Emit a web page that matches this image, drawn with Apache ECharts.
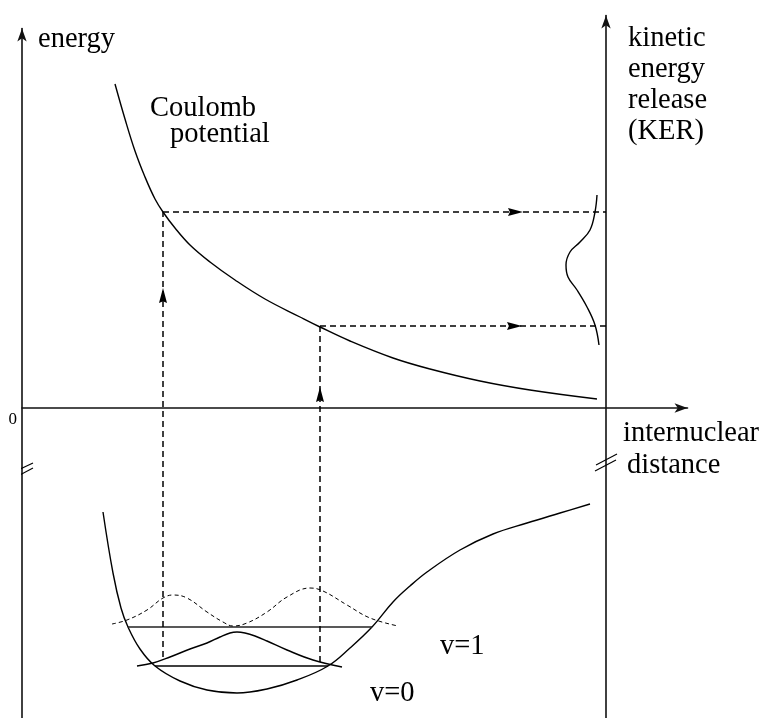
<!DOCTYPE html>
<html>
<head>
<meta charset="utf-8">
<script src="https://cdn.jsdelivr.net/npm/echarts@6/dist/echarts.min.js"></script>
<style>
  html, body { margin: 0; padding: 0; background: #ffffff; }
  #chart { width: 763px; height: 718px; }
</style>
</head>
<body>
<div id="chart"></div>
<script>
// Coordinates: x = internuclear distance, y = energy (0 at the dissociation limit)

// Repulsive Coulomb potential of the dication
const coulombCurve = [[115,324],[125,289],[135,257],[145,231],[155,209],[163,196],[175,180],[190,163],
  [210,146],[235,128],[265,109],[300,91],[320,81],[350,67],[393,50],[430,39],[480,27],[530,18],[597,9]];

// Bound potential well of the neutral molecule
const wellCurve = [[103,-104],[113,-165],[121,-200],[128,-219],[140,-241],[155,-258],[180,-273],[207,-282],
  [237,-285],[267,-281],[297,-272],[328,-258],[350,-240],[372,-219],[393,-194],[410,-178],[427,-164],
  [460,-142],[493,-126],[527,-115],[560,-105],[590,-96]];

// Vibrational levels: [left edge, right edge, energy]
const levelV1 = [128, 372, -219];
const levelV0 = [155, 328, -258];

// Ground-state (v=0) probability density
const densityV0 = [[137,-258],[153,-255],[170,-249],[190,-241],[207,-235],[220,-229],[230,-225],
  [237,-224],[245,-225],[255,-228],[267,-233],[287,-242],[313,-252],[342,-259]];

// First excited (v=1) probability density
const densityV1 = [[112,-216],[127,-212],[147,-202],[163,-190],[173,-187],[187,-190],[207,-204],
  [223,-214],[233,-218],[247,-215],[267,-204],[287,-189],[310,-180],[323,-183],[347,-197],
  [370,-210],[398,-218]];

// KER distribution drawn against the KER axis: [distance-axis position, energy]
const kerProfile = [[597,213],[595,196],[590,178],[580,166],[570,156],[566,143],[568,131],
  [577,118],[587,101],[595,83],[599,63]];

// Vertical (ionising) transitions and their projection onto the KER axis
const transitionR = [163, 320];
const startE = [-249, -254];
const coulombHitE = [196, 82];
const upArrowE = [120, 21];
const sideArrowR = [523, 522];
const kerAxisR = 606;

// Axis-break marks
const breakLeft = [[[12,-65],[33,-55]], [[12,-71],[33,-60]]];
const breakRight = [[[596,-57],[617,-46]], [[595,-63],[616,-52]]];

const ink = '#000';
const serif = '"Liberation Serif", "Times New Roman", serif';
const arrowPath = 'path://M5,0 L10,16 L5,14 L0,16 Z';

function curve(data, width, opts) {
  opts = opts || {};
  return {
    type: 'line', data: data, symbol: 'none', clip: false, silent: true,
    smooth: opts.smooth === undefined ? 0.4 : opts.smooth,
    lineStyle: { color: opts.color || ink, width: width, type: opts.dash || 'solid' },
    markPoint: opts.markPoint
  };
}

function arrowHead(coord, dir) {
  return dir === 'up'
    ? { coord: coord, symbolRotate: 0, symbolOffset: [0, 7.5] }
    : { coord: coord, symbolRotate: -90, symbolOffset: [-7.5, 0] };
}

const series = [
  curve(coulombCurve, 1.4),
  curve(wellCurve, 1.4),
  curve([[levelV1[0], levelV1[2]], [levelV1[1], levelV1[2]]], 1.4, { smooth: false, color: '#222' }),
  curve([[levelV0[0], levelV0[2]], [levelV0[1], levelV0[2]]], 1.4, { smooth: false }),
  curve(densityV0, 1.4),
  curve(densityV1, 1, { dash: [4, 3] }),
  curve(kerProfile, 1.4)
];

transitionR.forEach(function (r, i) {
  const markStyle = { symbol: arrowPath, symbolSize: [8, 15], itemStyle: { color: ink }, label: { show: false }, silent: true };
  series.push(curve([[r, startE[i]], [r, coulombHitE[i]]], 1.5, {
    smooth: false, dash: [6, 4],
    markPoint: Object.assign({ data: [arrowHead([r, upArrowE[i]], 'up')] }, markStyle)
  }));
  series.push(curve([[r, coulombHitE[i]], [kerAxisR, coulombHitE[i]]], 1.5, {
    smooth: false, dash: [6, 4],
    markPoint: Object.assign({ data: [arrowHead([sideArrowR[i], coulombHitE[i]], 'right')] }, markStyle)
  }));
});

breakLeft.concat(breakRight).forEach(function (seg) {
  series.push(curve(seg, 1.1, { smooth: false }));
});

function label(text, x, baseline, size) {
  size = size || 28.5;
  return {
    type: 'text', x: x, y: baseline - size * 0.34 + 3, silent: true,
    style: { text: text, font: size + 'px ' + serif, fill: ink, align: 'left', verticalAlign: 'middle' }
  };
}

const axisInk = { color: '#111', width: 1.6 };

const option = {
  animation: false,
  backgroundColor: '#ffffff',
  grid: [
    { left: 22, right: 75.5, top: 28.5, bottom: 0 },
    { left: 606, width: 1, top: 15.5, bottom: 0 }
  ],
  xAxis: [
    {
      type: 'value', gridIndex: 0, min: 22, max: 687.5,
      axisLine: { show: true, onZero: true, symbol: ['none', 'arrow'], symbolSize: [7, 13], lineStyle: axisInk },
      axisTick: { show: false }, axisLabel: { show: false }, splitLine: { show: false }
    },
    { type: 'value', gridIndex: 1, min: 0, max: 1, show: false }
  ],
  yAxis: [
    {
      type: 'value', gridIndex: 0, min: -310, max: 379.5,
      axisLine: { show: true, symbol: ['none', 'arrow'], symbolSize: [7, 13], lineStyle: axisInk },
      axisTick: { show: false }, splitLine: { show: false },
      axisLabel: {
        show: true, customValues: [0], margin: 5, verticalAlign: 'top', padding: [3, 0, 0, 0],
        fontFamily: serif, fontSize: 17, color: ink
      }
    },
    {
      type: 'value', gridIndex: 1, min: 0, max: 1, position: 'left',
      axisLine: { show: true, onZero: false, symbol: ['none', 'arrow'], symbolSize: [7, 13], lineStyle: axisInk },
      axisTick: { show: false }, axisLabel: { show: false }, splitLine: { show: false }
    }
  ],
  series: series,
  graphic: [
    label('energy', 38, 46),
    label('Coulomb', 150, 115),
    label('potential', 170, 141),
    label('kinetic', 628, 45),
    label('energy', 628, 76),
    label('release', 628, 107),
    label('(KER)', 628, 138),
    label('internuclear', 623, 440),
    label('distance', 627, 472),
    label('v=1', 440, 653),
    label('v=0', 370, 700)
  ]
};

const chart = echarts.init(document.getElementById('chart'), null, { renderer: 'canvas' });
chart.setOption(option);
</script>
</body>
</html>
